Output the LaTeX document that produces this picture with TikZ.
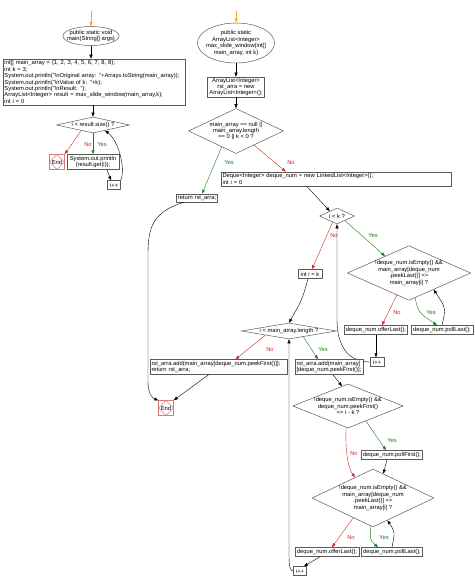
\documentclass[tikz,border=0pt]{standalone}
\usepackage{fontspec}
\setmainfont{Liberation Sans}
\usetikzlibrary{shapes.geometric,arrows.meta}
\definecolor{boxc}{RGB}{90,90,90}
\definecolor{noc}{RGB}{210,40,40}
\definecolor{yesc}{RGB}{30,120,30}
\definecolor{endc}{RGB}{220,120,120}
\definecolor{orc}{RGB}{245,170,40}
\begin{document}
\begin{tikzpicture}[x=1pt,y=-1pt,
  every node/.style={font=\fontsize{5.8}{6.4}\selectfont},
  box/.style={draw=boxc, fill=white, line width=0.5pt, inner sep=1.5pt, align=center},
  sbox/.style={box, inner sep=0.5pt},
  lbox/.style={box, align=left},
  dia/.style={diamond, draw=boxc, fill=white, line width=0.5pt, inner sep=0pt, align=center},
  ell/.style={ellipse, draw=boxc, fill=white, line width=0.5pt, inner sep=0pt, align=center},
  endn/.style={draw=endc, line width=0.5pt, minimum size=15pt, inner sep=0pt,
    path picture={\draw[endc, line width=0.4pt] (path picture bounding box.north) -- (path picture bounding box.east) -- (path picture bounding box.south) -- (path picture bounding box.west) -- cycle;}},
  arr/.style={-{Triangle[length=4pt,width=3pt]}, line width=0.4pt, draw=black},
  yarr/.style={arr, draw=yesc},
  narr/.style={arr, draw=noc},
  oarr/.style={arr, draw=orc, line width=0.6pt},
  ylab/.style={text=yesc, inner sep=0pt},
  nlab/.style={text=noc, inner sep=0pt},
]
\useasboundingbox (0,0) rectangle (474,583);

% ---------- main ----------
\node[ell, minimum width=56pt, minimum height=19pt, inner xsep=-4pt] (e1) at (91,36) {public static void\\main(String[] args)};
\coordinate (o1) at (91,11);
\draw[oarr] (o1) -- (e1.north);
\node[lbox, text width=179pt, minimum height=46pt] (b1) at (94,82) {int[] main\_array = \{1, 2, 3, 4, 5, 6, 7, 8, 8\};\\
int k = 3;\\
System.out.println("\textbackslash nOriginal array: "+Arrays.toString(main\_array));\\
System.out.println("\textbackslash nValue of k: "+k);\\
System.out.println("\textbackslash nResult: ");\\
ArrayList<Integer> result = max\_slide\_window(main\_array,k);\\
int i = 0};
\draw[arr] (e1.south) -- (e1.south |- b1.north);
\node[dia, aspect=4.56, minimum width=73pt, minimum height=16pt] (d1) at (93,125) {i < result.size() ?};
\draw[arr] (b1.south -| d1.north) -- (d1.north);
\node[endn] (end1) at (57,162) {End};
\node[box, minimum width=52pt, minimum height=15pt, inner sep=0.5pt] (b2) at (93,162) {System.out.println\\(result.get(i));};
\draw[yarr] (d1.south) -- (b2.north);
\node[ylab] (y1) at (102,145) {Yes};
\draw[narr] (d1.205) -- (end1.north east);
\node[nlab] (n1) at (88,145) {No};
\node[sbox, minimum width=13pt, minimum height=9pt] (inc1) at (114,185) {i++};
\draw[arr] ([xshift=14pt]b2.south) -- ([xshift=-3pt]inc1.north);
\draw[arr] (inc1.north east) .. controls (126,168) and (118,140) .. (d1.-25);

% ---------- max_slide_window ----------
\node[ell, minimum width=77pt, minimum height=40pt, inner xsep=-3pt] (e2) at (236,43) {public static\\ArrayList<Integer>\\max\_slide\_window(int[]\\main\_array, int k)};
\coordinate (o2) at (236,11);
\draw[oarr] (o2) -- (e2.north);
\node[sbox, minimum width=57pt, minimum height=20pt] (bx2) at (236,87) {ArrayList<Integer>\\rst\_arra = new\\ArrayList<Integer>();};
\draw[arr] (e2.south) -- (bx2.north);
\node[dia, aspect=2.11, minimum width=95pt, minimum height=45pt] (d2) at (236,131) {main\_array == null ||\\main\_array.length\\== 0 || k < 0 ?};
\draw[arr] (bx2.south) -- (d2.north);
\node[sbox, minimum width=41pt, minimum height=8pt] (ret) at (197,198) {return rst\_arra;};
\draw[yarr] (d2.228) -- ([xshift=5pt]ret.north);
\node[ylab] (y2) at (229,163) {Yes};
\node[lbox, text width=227pt, minimum height=14pt] (deq) at (336,179) {Deque<Integer> deque\_num = new LinkedList<Integer>();\\int i = 0};
\draw[narr] (d2.-38) -- ([xshift=65pt]deq.north west);
\node[nlab] (n2) at (291,163) {No};
\node[dia, aspect=2.19, minimum width=35pt, minimum height=16pt] (dk) at (337,216) {i < k ?};
\draw[arr] ([xshift=86pt]deq.south west) -- (dk.146);
\node[sbox, minimum width=24pt, minimum height=9pt] (ik) at (310,274) {int i = k};
\draw[narr] (dk.235) -- ([xshift=2pt]ik.north);
\node[nlab] (n3) at (334,236) {No};
\node[dia, aspect=2.26, minimum width=122pt, minimum height=54pt] (d3) at (409,273) {!deque\_num.isEmpty() \&\&\\main\_array[deque\_num\\.peekLast()] <=\\main\_array[i] ?};
\draw[yarr] (dk.-30) -- (d3.145);
\node[ylab] (y3) at (373,236) {Yes};
\node[sbox, minimum width=63pt, minimum height=9pt] (ol1) at (376,330) {deque\_num.offerLast();};
\node[sbox, minimum width=62pt, minimum height=9pt] (pl1) at (442,330) {deque\_num.pollLast();};
\draw[narr] (d3.241) -- ([xshift=6pt]ol1.north);
\node[nlab] (n4) at (397,313) {No};
\draw[yarr] (d3.-76) .. controls (418,312) .. ([xshift=-5pt]pl1.north);
\node[ylab] (y4) at (431,313) {Yes};
\draw[arr] (pl1.north) .. controls (446,308) .. (d3.-34);
\node[sbox, minimum width=14pt, minimum height=9pt] (inc2) at (377,362) {i++};
\draw[arr] (ol1.south) -- (ol1.south |- inc2.north);
\draw[arr] (inc2.west) .. controls (350,362) and (337,348) .. (337,320) -- (dk.south);

\node[dia, aspect=5.9, minimum width=95pt, minimum height=16pt] (d4) at (289,331) {i < main\_array.length ?};
\draw[arr] ([xshift=-2pt]ik.south) .. controls (302,300) .. (d4.north);
\node[lbox, text width=134pt, minimum height=15pt] (lb) at (218.5,367) {rst\_arra.add(main\_array[deque\_num.peekFirst()]);\\return rst\_arra;};
\node[lbox, text width=65pt, minimum height=15pt] (rb) at (329,367) {rst\_arra.add(main\_array[\\{}[deque\_num.peekFirst()];};
\draw[narr] (d4.190) -- ([xshift=17pt]lb.north);
\node[nlab] (n5) at (270,350) {No};
\draw[yarr] (d4.-22) -- ([xshift=-11pt]rb.north);
\node[ylab] (y5) at (323,350) {Yes};
\node[endn] (end2) at (166,408) {End};
\draw[arr] ([xshift=-10pt]lb.south) -- (end2.north east);
\draw[arr] ([xshift=-13pt]ret.south) .. controls (152,212) and (148,228) .. (148,255) -- (148,382) .. controls (148,393) and (152,398) .. (end2.north west);

\node[dia, aspect=2.5, minimum width=110pt, minimum height=44pt] (d5) at (348,406) {!deque\_num.isEmpty() \&\&\\deque\_num.peekFirst()\\<= i - k ?};
\draw[arr] ([xshift=4pt]rb.south) -- (d5.107);
\node[sbox, minimum width=61pt, minimum height=9pt] (pf) at (392,455) {deque\_num.pollFirst();};
\draw[yarr] (d5.-40) -- ([xshift=-6pt]pf.north);
\node[ylab] (y6) at (392,441) {Yes};
\node[dia, aspect=2.1, minimum width=122pt, minimum height=58pt] (d6) at (373,498) {!deque\_num.isEmpty() \&\&\\main\_array[deque\_num\\.peekLast()] <=\\main\_array[i] ?};
\draw[narr] (d5.265) .. controls (345,450) and (348,468) .. (d6.131);
\node[nlab] (n6) at (354,454) {No};
\draw[arr] ([xshift=-5pt]pf.south) -- (d6.67);
\node[sbox, minimum width=64pt, minimum height=9pt] (ol2) at (327,552) {deque\_num.offerLast();};
\node[sbox, minimum width=61pt, minimum height=9pt] (pl2) at (392,552) {deque\_num.pollLast();};
\draw[narr] (d6.225) -- ([xshift=5pt]ol2.north);
\node[nlab] (n7) at (351,538) {No};
\draw[yarr] (d6.265) .. controls (370,540) .. ([xshift=-14pt]pl2.north);
\node[ylab] (y7) at (384,538) {Yes};
\draw[arr] (pl2.north) .. controls (395,532) .. (d6.-57);
\node[sbox, minimum width=13pt, minimum height=9pt] (inc3) at (300,571) {i++};
\draw[arr] ([xshift=-7pt]ol2.south) -- ([xshift=4pt]inc3.north);
\draw[arr] (inc3.west) .. controls (290,571) and (289,566) .. (289,555) -- (d4.south);
\end{tikzpicture}
\end{document}
